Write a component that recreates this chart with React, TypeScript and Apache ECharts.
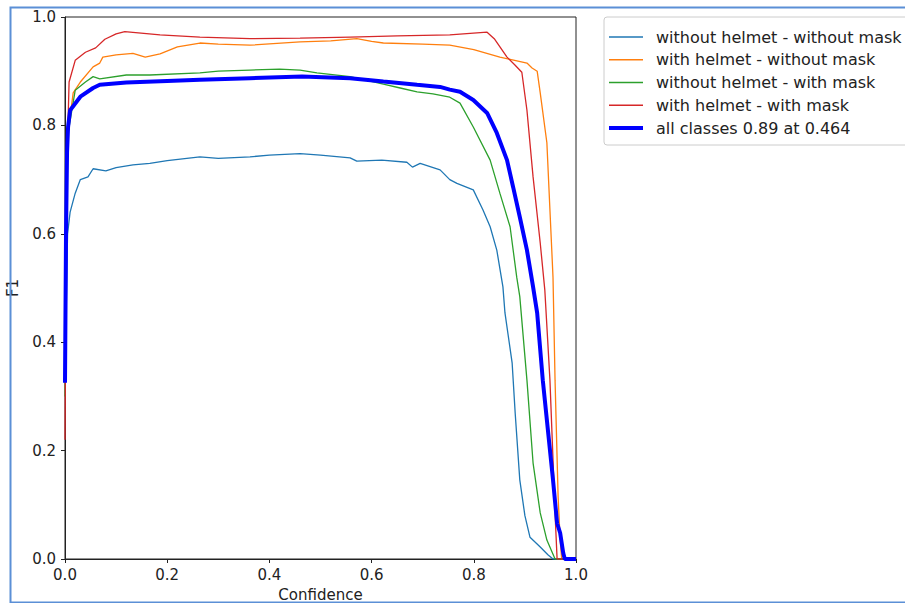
import React, { useEffect, useRef } from "react";
import * as echarts from "echarts";

const seriesNames = [
  "without helmet - without mask",
  "with helmet - without mask",
  "without helmet - with mask",
  "with helmet - with mask",
  "all classes 0.89 at 0.464",
];

const xTicks = [0, 0.2, 0.4, 0.6, 0.8, 1.0];

const noHelmetNoMask: [number, number][] = [
  [0, 0.33], [0.005, 0.6], [0.01, 0.64], [0.02, 0.675], [0.03, 0.7], [0.045, 0.705],
  [0.055, 0.72], [0.08, 0.716], [0.1, 0.722], [0.133, 0.727], [0.166, 0.73], [0.2, 0.735],
  [0.264, 0.742], [0.3, 0.739], [0.362, 0.742], [0.4, 0.745], [0.46, 0.748], [0.5, 0.745],
  [0.558, 0.74], [0.571, 0.734], [0.62, 0.736], [0.669, 0.732], [0.68, 0.723], [0.695, 0.73],
  [0.734, 0.718], [0.753, 0.7], [0.767, 0.693], [0.799, 0.681], [0.818, 0.644], [0.832, 0.613],
  [0.845, 0.57], [0.857, 0.502], [0.861, 0.454], [0.875, 0.362], [0.881, 0.269], [0.89, 0.146],
  [0.9, 0.08], [0.91, 0.04], [0.93, 0.022], [0.945, 0.008], [0.955, 0], [1, 0],
];

const helmetNoMask: [number, number][] = [
  [0, 0.35], [0.005, 0.78], [0.016, 0.86], [0.03, 0.88], [0.055, 0.908], [0.068, 0.915],
  [0.074, 0.926], [0.1, 0.93], [0.133, 0.933], [0.157, 0.926], [0.186, 0.932], [0.22, 0.945],
  [0.264, 0.952], [0.3, 0.95], [0.362, 0.948], [0.46, 0.954], [0.52, 0.956], [0.571, 0.96],
  [0.6, 0.955], [0.623, 0.952], [0.7, 0.95], [0.753, 0.948], [0.8, 0.94], [0.851, 0.926],
  [0.88, 0.92], [0.904, 0.915], [0.914, 0.906], [0.924, 0.9], [0.93, 0.86], [0.943, 0.768],
  [0.949, 0.644], [0.955, 0.52], [0.959, 0.33], [0.965, 0.115], [0.969, 0.035], [0.972, 0],
  [1, 0],
];

const noHelmetMask: [number, number][] = [
  [0, 0.3], [0.005, 0.78], [0.02, 0.865], [0.04, 0.88], [0.055, 0.89], [0.068, 0.886],
  [0.12, 0.893], [0.166, 0.893], [0.264, 0.897], [0.3, 0.9], [0.362, 0.902], [0.42, 0.904],
  [0.46, 0.902], [0.493, 0.897], [0.558, 0.89], [0.623, 0.876], [0.656, 0.869], [0.689, 0.862],
  [0.72, 0.858], [0.753, 0.852], [0.773, 0.841], [0.799, 0.797], [0.832, 0.736], [0.851, 0.675],
  [0.871, 0.613], [0.884, 0.52], [0.89, 0.484], [0.904, 0.33], [0.916, 0.177], [0.93, 0.085],
  [0.943, 0.035], [0.959, 0], [1, 0],
];

const helmetMask: [number, number][] = [
  [0, 0.22], [0.003, 0.7], [0.008, 0.88], [0.02, 0.92], [0.04, 0.935], [0.06, 0.943],
  [0.078, 0.959], [0.1, 0.969], [0.117, 0.973], [0.186, 0.967], [0.264, 0.963], [0.362, 0.96],
  [0.46, 0.961], [0.558, 0.963], [0.65, 0.965], [0.753, 0.967], [0.826, 0.972], [0.84, 0.96],
  [0.865, 0.926], [0.88, 0.912], [0.894, 0.898], [0.904, 0.828], [0.916, 0.705], [0.93, 0.583],
  [0.939, 0.496], [0.949, 0.33], [0.959, 0.085], [0.963, 0], [1, 0],
];

const allClasses: [number, number][] = [
  [0, 0.325], [0.002, 0.6], [0.004, 0.75], [0.006, 0.797], [0.01, 0.828], [0.03, 0.853],
  [0.055, 0.869], [0.068, 0.875], [0.12, 0.879], [0.2, 0.882], [0.264, 0.884], [0.362, 0.887],
  [0.464, 0.89], [0.558, 0.887], [0.623, 0.881], [0.689, 0.875], [0.734, 0.871], [0.753, 0.866],
  [0.773, 0.862], [0.799, 0.847], [0.826, 0.823], [0.845, 0.786], [0.865, 0.736], [0.877, 0.686],
  [0.89, 0.631], [0.904, 0.57], [0.916, 0.502], [0.924, 0.454], [0.935, 0.33], [0.945, 0.238],
  [0.955, 0.146], [0.963, 0.066], [0.969, 0.048], [0.975, 0.011], [0.978, 0], [1, 0],
];

const seriesData = [noHelmetNoMask, helmetNoMask, noHelmetMask, helmetMask, allClasses];
const seriesColors = ["#1f77b4", "#ff7f0e", "#2ca02c", "#d62728", "#0000ff"];
const seriesWidths = [1.3, 1.3, 1.3, 1.3, 4];

const FONT = "DejaVu Sans";

export default function App() {
  const ref = useRef<HTMLDivElement>(null);
  useEffect(() => {
    if (!ref.current) return;
    const chart = echarts.init(ref.current, undefined, { renderer: "svg" });
    chart.setOption({
      animation: false,
      backgroundColor: "#ffffff",
      textStyle: { fontFamily: FONT },
      grid: {
        left: 65,
        top: 17,
        width: 511,
        height: 542,
        containLabel: false,
        outerBoundsMode: "none",
        show: true,
        borderColor: "#222",
        borderWidth: 1,
        backgroundColor: "transparent",
      },
      xAxis: {
        type: "value",
        min: xTicks[0],
        max: xTicks[xTicks.length - 1],
        interval: 0.2,
        name: "Confidence",
        nameLocation: "middle",
        nameGap: 28,
        nameTextStyle: { fontSize: 15, color: "#222", fontFamily: FONT },
        axisLine: { lineStyle: { color: "#222", width: 1 } },
        axisTick: { show: true, inside: false, length: 4, lineStyle: { color: "#222" } },
        axisLabel: { fontSize: 15, color: "#222", margin: 8, fontFamily: FONT, formatter: (v: number) => v.toFixed(1) },
        splitLine: { show: false },
      },
      yAxis: {
        type: "value",
        min: 0,
        max: 1,
        interval: 0.2,
        name: "F1",
        nameLocation: "middle",
        nameGap: 45,
        nameTextStyle: { fontSize: 15, color: "#222", fontFamily: FONT },
        axisLine: { show: true, lineStyle: { color: "#222", width: 1 } },
        axisTick: { show: true, inside: false, length: 4, lineStyle: { color: "#222" } },
        axisLabel: { fontSize: 15, color: "#222", margin: 9, fontFamily: FONT, formatter: (v: number) => v.toFixed(1) },
        splitLine: { show: false },
      },
      legend: {
        orient: "vertical",
        left: 604,
        top: 17,
        itemWidth: 34,
        itemHeight: 16,
        itemGap: 6.75,
        padding: [12, 16, 9, 5],
        backgroundColor: "#fff",
        borderColor: "#cccccc",
        borderWidth: 1,
        borderRadius: 3,
        textStyle: { fontSize: 16, color: "#222", fontFamily: FONT, padding: [0, 0, 0, 8] },
        data: seriesNames.map((name, i) => ({
          name,
          icon: `path://M0,0 L34,0 L34,${seriesWidths[i]} L0,${seriesWidths[i]} Z`,
          itemStyle: { color: seriesColors[i] },
        })),
      },
      graphic: [
        {
          type: "rect",
          left: 8,
          top: 5,
          shape: { x: 0, y: 0, width: 1000, height: 595 },
          style: { fill: "none", stroke: "#5b8fd6", lineWidth: 2 },
          silent: true,
          z: 100,
        },
      ],
      series: seriesNames.map((name, i) => ({
        name,
        type: "line",
        data: seriesData[i],
        symbol: "none",
        showSymbol: false,
        color: seriesColors[i],
        lineStyle: { color: seriesColors[i], width: seriesWidths[i] },
        z: i === 4 ? 3 : 2,
      })),
    });
    return () => chart.dispose();
  }, []);
  return (
    <div
      ref={ref}
      style={{ position: "fixed", left: 0, top: 0, width: 905, height: 603 }}
    />
  );
}
